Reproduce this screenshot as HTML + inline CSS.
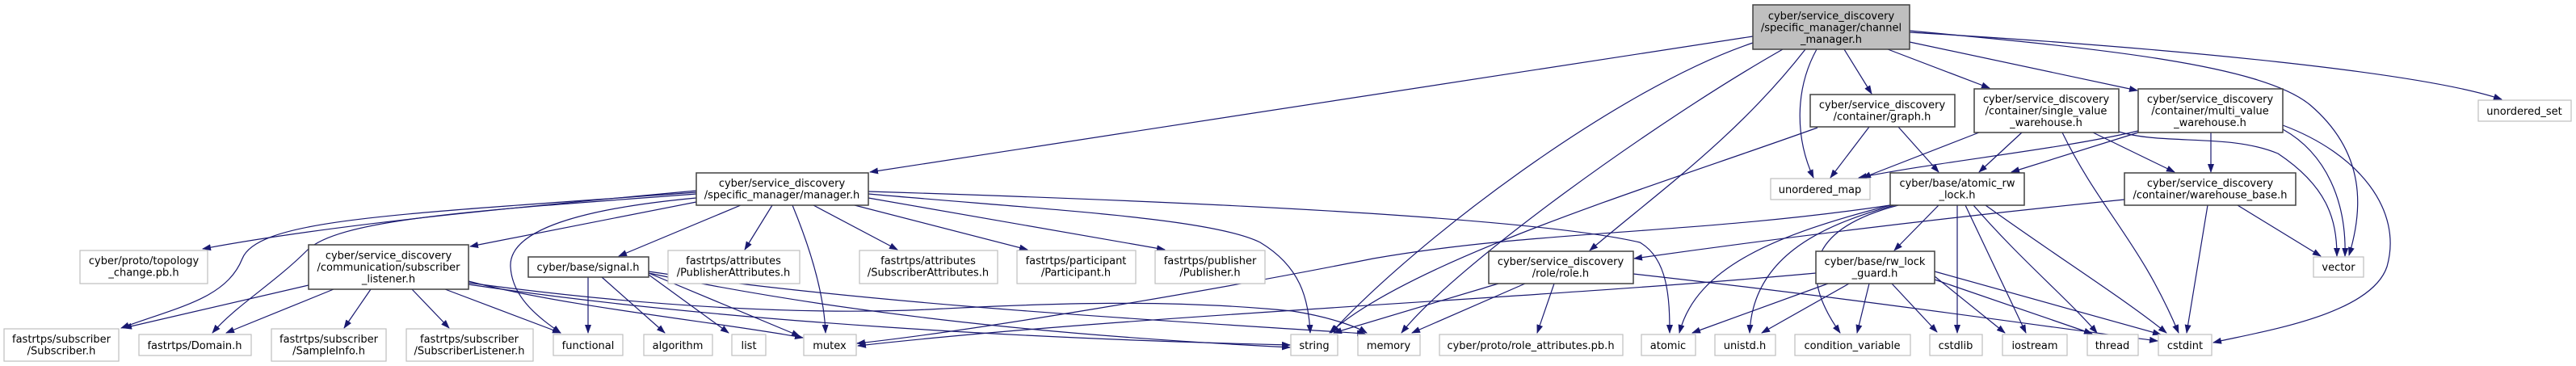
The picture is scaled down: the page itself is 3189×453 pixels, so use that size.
<!DOCTYPE html>
<html><head><meta charset="utf-8"><style>
html,body{margin:0;padding:0;background:#fff;}
svg{display:block;}
text{font-family:"DejaVu Sans","Liberation Sans",sans-serif;font-size:13px;fill:#000;}
.n{fill:#fff;stroke:#404040;stroke-width:1.5;}
.g{fill:#fff;stroke:#bfbfbf;stroke-width:1.2;}
.e{fill:none;stroke:#191970;stroke-width:1.2;marker-end:url(#a);}
</style></head><body>
<svg width="3189" height="453" viewBox="0 0 3189 453" xmlns="http://www.w3.org/2000/svg">
<defs><marker id="a" markerUnits="userSpaceOnUse" markerWidth="11" markerHeight="8" refX="10" refY="4" orient="auto"><path d="M0,0 L11,4 L0,8 z" fill="#191970"/></marker></defs>
<g>
<!-- channel_manager edges -->
<path class="e" d="M2170,45 L1077,213"/>
<path class="e" d="M2170,53 C2000,110 1750,300 1648,412"/>
<path class="e" d="M2207,61 C2050,150 1800,330 1735,412"/>
<path class="e" d="M2235,61 C2150,170 2050,240 1968,310"/>
<path class="e" d="M2249,61 C2222,110 2222,170 2245,220"/>
<path class="e" d="M2283,61 L2317,116"/>
<path class="e" d="M2337,61 L2463,109"/>
<path class="e" d="M2364,52 L2646,112"/>
<path class="e" d="M2364,38 C2600,60 2800,80 2860,130 C2930,190 2925,260 2908,316"/>
<path class="e" d="M2364,40 C2700,60 3000,90 3097,123"/>
<!-- manager edges -->
<path class="e" d="M862,236 C600,260 400,280 251,308"/>
<path class="e" d="M862,238 C500,265 320,270 300,320 C280,370 220,380 150,406"/>
<path class="e" d="M862,240 C600,260 420,270 380,310 C340,350 290,380 263,412"/>
<path class="e" d="M862,250 L582,305"/>
<path class="e" d="M862,245 C700,260 630,290 632,330 C634,370 670,395 694,412"/>
<path class="e" d="M917,254 L766,317"/>
<path class="e" d="M956,254 L922,309"/>
<path class="e" d="M981,254 C1000,300 1020,360 1022,412"/>
<path class="e" d="M1007,254 L1111,309"/>
<path class="e" d="M1058,254 L1272,309"/>
<path class="e" d="M1075,245 L1442,309"/>
<path class="e" d="M1075,240 C1300,260 1500,270 1560,300 C1610,330 1620,370 1622,412"/>
<path class="e" d="M1075,237 C1500,250 1900,270 2030,300 C2065,320 2067,370 2067,412"/>
<!-- subscriber_listener edges -->
<path class="e" d="M382,353 L153,406"/>
<path class="e" d="M413,358 L280,412"/>
<path class="e" d="M459,358 L426,406"/>
<path class="e" d="M510,358 L556,406"/>
<path class="e" d="M551,358 L694,412"/>
<path class="e" d="M580,348 C700,380 900,400 994,418"/>
<path class="e" d="M580,352 C900,400 1300,420 1597,427"/>
<path class="e" d="M580,350 C800,380 1000,390 1150,383 C1300,375 1450,370 1600,385 C1650,393 1680,405 1692,412"/>
<!-- signal edges -->
<path class="e" d="M728,343 L728,412"/>
<path class="e" d="M745,343 L823,412"/>
<path class="e" d="M803,340 L902,412"/>
<path class="e" d="M803,338 L990,416"/>
<path class="e" d="M803,336 C1100,380 1500,400 1690,413"/>
<path class="e" d="M803,338 C1100,400 1400,420 1597,430"/>
<!-- graph edges -->
<path class="e" d="M2314,157 L2266,220"/>
<path class="e" d="M2350,157 L2400,213"/>
<path class="e" d="M2250,158 C2050,230 1750,320 1646,412"/>
<!-- single value edges -->
<path class="e" d="M2503,164 L2450,213"/>
<path class="e" d="M2450,164 L2306,220"/>
<path class="e" d="M2591,164 L2692,213"/>
<path class="e" d="M2553,164 C2600,260 2650,300 2697,412"/>
<path class="e" d="M2623,163 C2680,180 2760,165 2820,190 C2880,230 2893,270 2893,317"/>
<!-- multi value edges -->
<path class="e" d="M2647,164 L2490,213"/>
<path class="e" d="M2647,162 C2550,185 2400,200 2301,220"/>
<path class="e" d="M2737,164 L2737,213"/>
<path class="e" d="M2826,160 C2880,190 2905,250 2903,317"/>
<path class="e" d="M2826,155 C2920,190 2975,260 2955,330 C2935,390 2800,410 2740,424"/>
<!-- warehouse base edges -->
<path class="e" d="M2630,247 C2400,270 2200,295 2023,320"/>
<path class="e" d="M2770,254 L2873,317"/>
<path class="e" d="M2733,254 L2707,412"/>
<!-- atomic rw lock edges -->
<path class="e" d="M2340,254 C2100,290 1900,285 1700,320 C1500,360 1200,410 1061,425"/>
<path class="e" d="M2400,254 L2345,310"/>
<path class="e" d="M2340,254 C2200,290 2100,330 2079,412"/>
<path class="e" d="M2345,254 C2250,280 2170,320 2166,412"/>
<path class="e" d="M2350,254 C2250,280 2220,330 2278,412"/>
<path class="e" d="M2423,254 L2423,412"/>
<path class="e" d="M2433,254 L2508,412"/>
<path class="e" d="M2443,254 C2500,320 2560,370 2596,412"/>
<path class="e" d="M2458,254 C2550,320 2630,370 2682,412"/>
<!-- rw lock guard edges -->
<path class="e" d="M2248,338 C1900,370 1400,390 1062,428"/>
<path class="e" d="M2263,351 L2095,412"/>
<path class="e" d="M2289,351 L2181,412"/>
<path class="e" d="M2314,351 L2299,412"/>
<path class="e" d="M2342,351 L2398,411"/>
<path class="e" d="M2395,342 L2482,412"/>
<path class="e" d="M2395,346 L2590,413"/>
<path class="e" d="M2395,336 L2675,414"/>
<!-- role edges -->
<path class="e" d="M1855,351 L1651,412"/>
<path class="e" d="M1888,351 L1748,412"/>
<path class="e" d="M1924,351 L1903,412"/>
<path class="e" d="M2022,339 C2300,370 2500,400 2671,422"/>
</g>
<g>
<!-- main nodes -->
<rect x="2170" y="6" width="194" height="55" fill="#bfbfbf" stroke="#404040" stroke-width="1.5"/>
<text x="2267" y="24" text-anchor="middle">cyber/service_discovery</text>
<text x="2267" y="38.5" text-anchor="middle">/specific_manager/channel</text>
<text x="2267" y="53" text-anchor="middle">_manager.h</text>

<rect class="n" x="862" y="214" width="213" height="40"/>
<text x="968" y="231" text-anchor="middle">cyber/service_discovery</text>
<text x="968" y="245.5" text-anchor="middle">/specific_manager/manager.h</text>

<rect class="n" x="2241" y="117" width="179" height="40"/>
<text x="2330" y="134" text-anchor="middle">cyber/service_discovery</text>
<text x="2330" y="148.5" text-anchor="middle">/container/graph.h</text>

<rect class="n" x="2444" y="110" width="179" height="54"/>
<text x="2533" y="127" text-anchor="middle">cyber/service_discovery</text>
<text x="2533" y="141.5" text-anchor="middle">/container/single_value</text>
<text x="2533" y="156" text-anchor="middle">_warehouse.h</text>

<rect class="n" x="2647" y="110" width="179" height="54"/>
<text x="2736" y="127" text-anchor="middle">cyber/service_discovery</text>
<text x="2736" y="141.5" text-anchor="middle">/container/multi_value</text>
<text x="2736" y="156" text-anchor="middle">_warehouse.h</text>

<rect class="n" x="2340" y="214" width="166" height="40"/>
<text x="2423" y="231" text-anchor="middle">cyber/base/atomic_rw</text>
<text x="2423" y="245.5" text-anchor="middle">_lock.h</text>

<rect class="n" x="2630" y="214" width="212" height="40"/>
<text x="2736" y="231" text-anchor="middle">cyber/service_discovery</text>
<text x="2736" y="245.5" text-anchor="middle">/container/warehouse_base.h</text>

<rect class="n" x="382" y="303" width="198" height="55"/>
<text x="481" y="320.5" text-anchor="middle">cyber/service_discovery</text>
<text x="481" y="335" text-anchor="middle">/communication/subscriber</text>
<text x="481" y="349.5" text-anchor="middle">_listener.h</text>

<rect class="n" x="654" y="318" width="149" height="25"/>
<text x="728" y="335" text-anchor="middle">cyber/base/signal.h</text>

<rect class="n" x="1843" y="311" width="179" height="40"/>
<text x="1932" y="328" text-anchor="middle">cyber/service_discovery</text>
<text x="1932" y="342.5" text-anchor="middle">/role/role.h</text>

<rect class="n" x="2248" y="311" width="147" height="40"/>
<text x="2321" y="328" text-anchor="middle">cyber/base/rw_lock</text>
<text x="2321" y="342.5" text-anchor="middle">_guard.h</text>

<!-- gray nodes -->
<rect class="g" x="3068" y="124" width="115" height="26"/>
<text x="3125" y="142" text-anchor="middle">unordered_set</text>
<rect class="g" x="2192" y="221" width="123" height="26"/>
<text x="2253" y="239" text-anchor="middle">unordered_map</text>
<rect class="g" x="2864" y="318" width="62" height="25"/>
<text x="2895" y="335" text-anchor="middle">vector</text>

<rect class="g" x="99" y="310" width="158" height="41"/>
<text x="178" y="327" text-anchor="middle">cyber/proto/topology</text>
<text x="178" y="341.5" text-anchor="middle">_change.pb.h</text>
<rect class="g" x="827" y="310" width="163" height="41"/>
<text x="908" y="327" text-anchor="middle">fastrtps/attributes</text>
<text x="908" y="341.5" text-anchor="middle">/PublisherAttributes.h</text>
<rect class="g" x="1064" y="310" width="171" height="41"/>
<text x="1149" y="327" text-anchor="middle">fastrtps/attributes</text>
<text x="1149" y="341.5" text-anchor="middle">/SubscriberAttributes.h</text>
<rect class="g" x="1259" y="310" width="147" height="41"/>
<text x="1332" y="327" text-anchor="middle">fastrtps/participant</text>
<text x="1332" y="341.5" text-anchor="middle">/Participant.h</text>
<rect class="g" x="1430" y="310" width="136" height="41"/>
<text x="1498" y="327" text-anchor="middle">fastrtps/publisher</text>
<text x="1498" y="341.5" text-anchor="middle">/Publisher.h</text>

<rect class="g" x="5" y="407" width="142" height="40"/>
<text x="76" y="424" text-anchor="middle">fastrtps/subscriber</text>
<text x="76" y="438.5" text-anchor="middle">/Subscriber.h</text>
<rect class="g" x="172" y="414" width="139" height="26"/>
<text x="241" y="432" text-anchor="middle">fastrtps/Domain.h</text>
<rect class="g" x="336" y="407" width="142" height="40"/>
<text x="407" y="424" text-anchor="middle">fastrtps/subscriber</text>
<text x="407" y="438.5" text-anchor="middle">/SampleInfo.h</text>
<rect class="g" x="503" y="407" width="157" height="40"/>
<text x="581" y="424" text-anchor="middle">fastrtps/subscriber</text>
<text x="581" y="438.5" text-anchor="middle">/SubscriberListener.h</text>
<rect class="g" x="685" y="414" width="86" height="26"/>
<text x="728" y="432" text-anchor="middle">functional</text>
<rect class="g" x="797" y="414" width="85" height="26"/>
<text x="839" y="432" text-anchor="middle">algorithm</text>
<rect class="g" x="906" y="414" width="42" height="26"/>
<text x="927" y="432" text-anchor="middle">list</text>
<rect class="g" x="995" y="414" width="65" height="26"/>
<text x="1027" y="432" text-anchor="middle">mutex</text>
<rect class="g" x="1598" y="414" width="58" height="26"/>
<text x="1627" y="432" text-anchor="middle">string</text>
<rect class="g" x="1681" y="414" width="77" height="26"/>
<text x="1719" y="432" text-anchor="middle">memory</text>
<rect class="g" x="1782" y="414" width="227" height="26"/>
<text x="1895" y="432" text-anchor="middle">cyber/proto/role_attributes.pb.h</text>
<rect class="g" x="2032" y="414" width="67" height="26"/>
<text x="2065" y="432" text-anchor="middle">atomic</text>
<rect class="g" x="2123" y="414" width="75" height="26"/>
<text x="2160" y="432" text-anchor="middle">unistd.h</text>
<rect class="g" x="2222" y="414" width="143" height="26"/>
<text x="2293" y="432" text-anchor="middle">condition_variable</text>
<rect class="g" x="2389" y="414" width="65" height="26"/>
<text x="2421" y="432" text-anchor="middle">cstdlib</text>
<rect class="g" x="2479" y="414" width="80" height="26"/>
<text x="2519" y="432" text-anchor="middle">iostream</text>
<rect class="g" x="2584" y="414" width="63" height="26"/>
<text x="2615" y="432" text-anchor="middle">thread</text>
<rect class="g" x="2672" y="414" width="66" height="26"/>
<text x="2705" y="432" text-anchor="middle">cstdint</text>
</g>
</svg>
</body></html>
